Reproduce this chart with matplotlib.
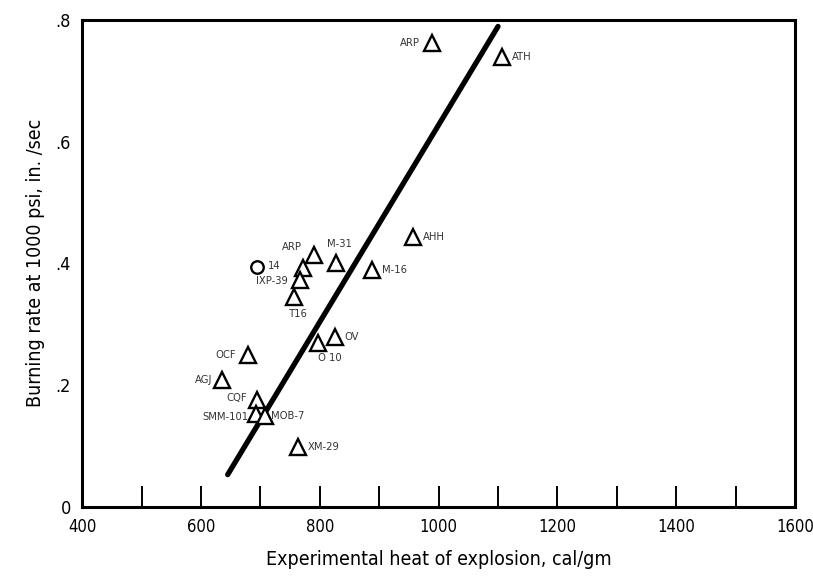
import numpy as np
import matplotlib.pyplot as plt

plt.rcParams['font.family'] = ['DejaVu Sans']
plt.rcParams['font.stretch'] = 'condensed'

# propellant points (heat cal/gm, burning rate in./sec)
tri_names = ["ARP", "ATH", "AHH", "M-16", "M-31", "ARP ", "", "IXP-39", "T16",
             "OV", "O 10", "OCF", "AGJ", "CQF", "SMM-101", "MOB-7", "XM-29"]
tri_heat = [989, 1107, 957, 888, 828, 790, 771, 767, 756,
            825, 797, 680, 636, 695, 693, 707, 763]
tri_rate = [0.761, 0.738, 0.444, 0.389, 0.400, 0.413, 0.392, 0.373, 0.345,
            0.279, 0.269, 0.250, 0.209, 0.176, 0.152, 0.149, 0.099]

circ_names = ["14"]
circ_heat = [695]
circ_rate = [0.394]

fit_heat = [645, 1100]
fit_rate = [0.053, 0.789]

# label offsets in pixels (dx, dy, ha)
offs = {
    "ARP": (-12, 0, "right"), "ATH": (10, 0, "left"), "AHH": (10, 0, "left"),
    "M-16": (10, 0, "left"), "M-31": (3, 19, "center"), "ARP ": (-12, 8, "right"),
    "IXP-39": (-12, -1, "right"), "T16": (5, -17, "center"), "OV": (10, 0, "left"),
    "O 10": (12, -15, "center"), "OCF": (-12, 0, "right"), "AGJ": (-10, 0, "right"),
    "CQF": (-10, 2, "right"), "SMM-101": (-8, -3, "right"), "MOB-7": (6, 0, "left"),
    "XM-29": (10, 0, "left"), "14": (10, 1, "left"),
}

fig = plt.figure(figsize=(8.13, 5.8), dpi=100)
ax = fig.add_axes([0.101, 0.126, 0.877, 0.840])

ax.plot(fit_heat, fit_rate, color='black', lw=3.8, solid_capstyle='round', zorder=3)
ax.plot(tri_heat, tri_rate, linestyle='none', marker='^', ms=11, mfc='white',
        mec='black', mew=1.7, zorder=4)
ax.plot(circ_heat, circ_rate, linestyle='none', marker='o', ms=9, mfc='white',
        mec='black', mew=1.7, zorder=4)

for names, xs, ys in [(tri_names, tri_heat, tri_rate), (circ_names, circ_heat, circ_rate)]:
    for n, x, y in zip(names, xs, ys):
        if not n:
            continue
        dx, dy, ha = offs[n]
        ax.annotate(n.strip(), (x, y), xytext=(dx, dy), textcoords='offset pixels',
                    ha=ha, va='center', fontsize=8, color='#333333', zorder=5)

ax.set_xlim(400, 1600)
ax.set_ylim(0, 0.8)
ax.set_xticks(np.arange(400, 1601, 100))
ax.set_xticklabels([str(v) if v % 200 == 0 else '' for v in range(400, 1601, 100)])
ax.set_yticks([0, 0.2, 0.4, 0.6, 0.8])
ax.set_yticklabels(['0', '.2', '.4', '.6', '.8'])
ax.tick_params(axis='x', direction='in', length=15, width=1.4, pad=8, labelsize=12)
ax.tick_params(axis='y', length=0, pad=8, labelsize=13)
for s in ax.spines.values():
    s.set_linewidth(2.2)

ax.set_xlabel('Experimental heat of explosion, cal/gm', fontsize=14, labelpad=10)
ax.set_ylabel('Burning rate at 1000 psi, in. /sec', fontsize=14, labelpad=8)

plt.savefig("out.png", dpi=100)
